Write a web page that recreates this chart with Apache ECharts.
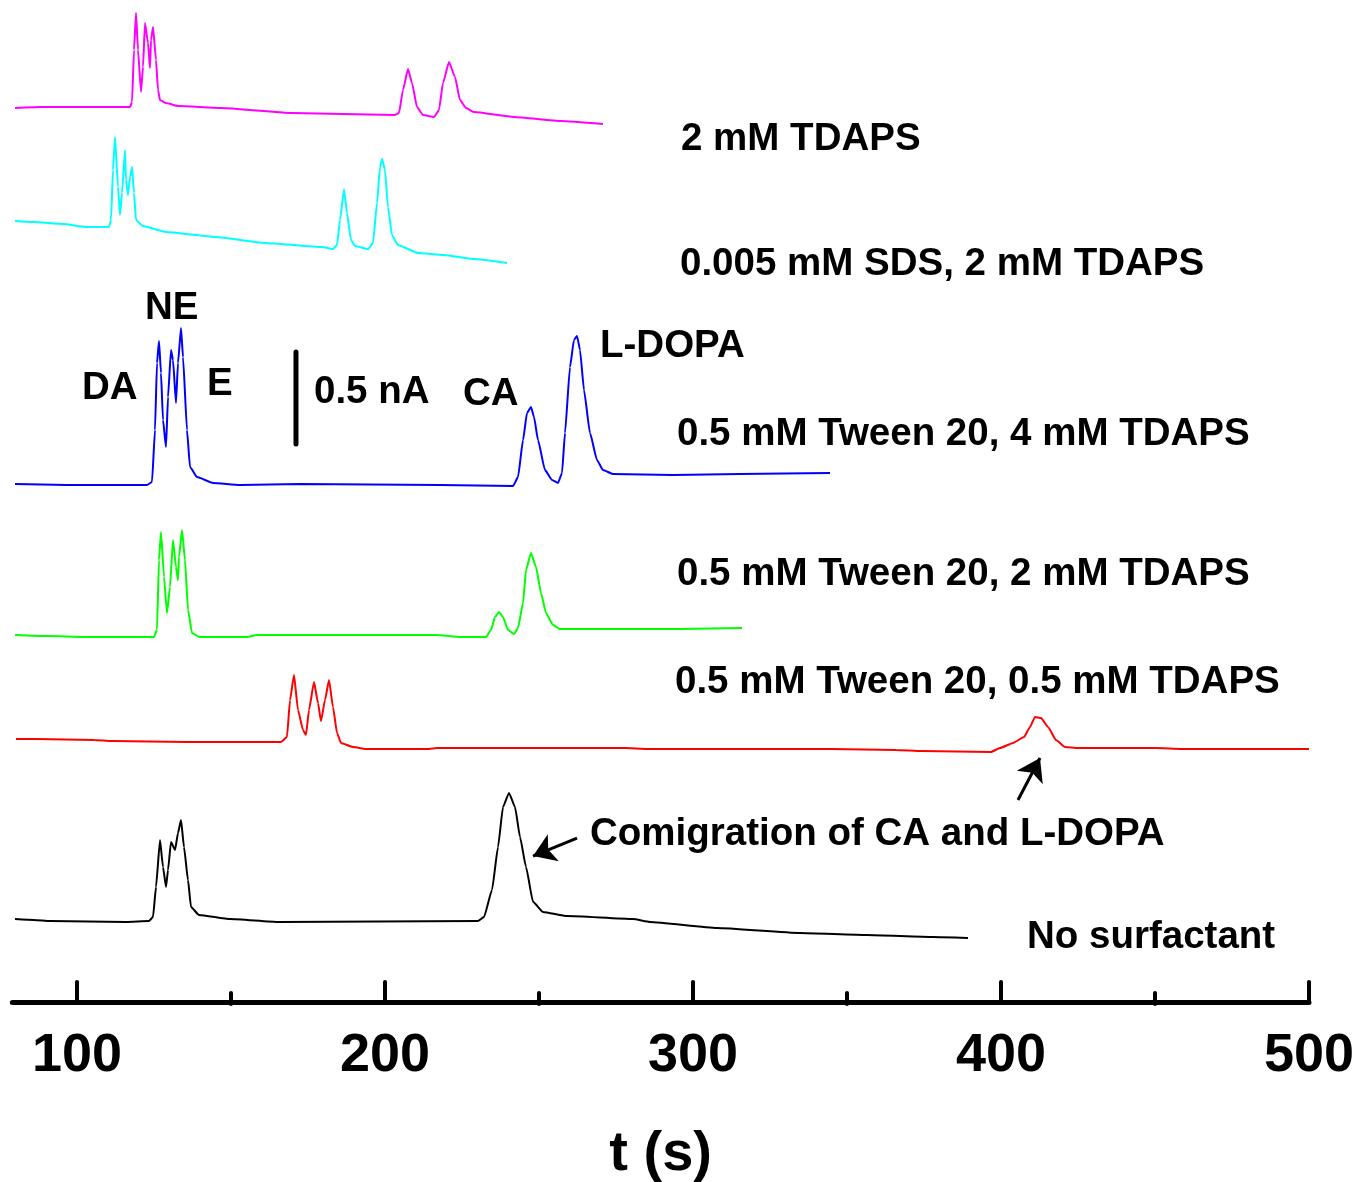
<!DOCTYPE html>
<html><head><meta charset="utf-8">
<script src="https://cdn.jsdelivr.net/npm/echarts@6/dist/echarts.min.js"></script>
<style>html,body{margin:0;padding:0;background:#fff}#c{width:1358px;height:1182px}</style>
</head><body><div id="c"></div>
<script>
// x: migration time t (s); y: detector current (nA), traces stacked with offsets
const xMajorTicks = [100, 200, 300, 400, 500];
const xMinorTicks = [150, 250, 350, 450];

const traceTDAPS2 = [[79.87,4.859],[87.99,4.864],[94.16,4.864],[107.14,4.864],[117.21,4.864],[117.86,4.891],[118.51,5.174],[119.16,5.375],[119.81,5.174],[120.78,4.946],[121.43,5.082],[122.08,5.321],[123.05,5.212],[123.70,5.076],[124.03,5.228],[124.68,5.299],[125.65,5.120],[126.30,4.957],[126.95,4.902],[128.90,4.886],[132.79,4.870],[146.75,4.859],[169.81,4.832],[203.25,4.821],[204.55,4.832],[205.84,4.957],[207.47,5.071],[208.77,4.995],[210.39,4.864],[212.34,4.821],[215.91,4.810],[217.53,4.848],[218.83,4.995],[220.78,5.109],[222.73,5.027],[224.35,4.902],[226.30,4.859],[228.90,4.837],[241.88,4.810],[257.14,4.788],[270.78,4.772]];

const traceSDS = [[79.87,4.245],[85.71,4.239],[95.45,4.228],[102.92,4.212],[110.39,4.212],[111.04,4.250],[111.69,4.522],[112.34,4.701],[113.31,4.429],[113.96,4.277],[114.61,4.397],[115.58,4.630],[115.91,4.467],[116.56,4.386],[117.21,4.484],[117.86,4.538],[118.51,4.397],[119.16,4.250],[121.43,4.217],[128.90,4.185],[145.13,4.158],[161.04,4.125],[179.55,4.103],[183.12,4.092],[184.42,4.114],[185.39,4.250],[186.69,4.418],[187.66,4.288],[188.96,4.141],[190.26,4.109],[194.48,4.092],[196.10,4.125],[197.40,4.342],[198.38,4.538],[199.03,4.582],[200.00,4.522],[200.97,4.321],[202.27,4.168],[204.22,4.114],[210.71,4.071],[219.16,4.060],[228.90,4.038],[239.61,4.016]];

const traceTween4 = [[79.87,2.815],[96.75,2.810],[122.73,2.810],[124.35,2.826],[125.32,3.109],[125.97,3.473],[126.62,3.592],[127.27,3.419],[127.92,3.163],[128.90,3.016],[129.55,3.288],[130.52,3.544],[131.17,3.489],[132.14,3.256],[132.79,3.473],[133.77,3.663],[134.42,3.505],[135.71,3.109],[136.69,2.908],[138.96,2.853],[144.16,2.821],[152.92,2.810],[172.40,2.815],[217.86,2.810],[241.56,2.804],[243.18,2.853],[244.81,3.054],[246.10,3.201],[247.40,3.234],[248.38,3.179],[249.68,3.054],[251.95,2.891],[254.22,2.837],[256.17,2.821],[257.47,2.875],[258.44,3.092],[260.06,3.451],[261.36,3.598],[262.34,3.620],[263.31,3.544],[264.61,3.326],[266.56,3.092],[268.83,2.946],[270.78,2.891],[274.03,2.870],[293.51,2.864],[315.26,2.870],[344.48,2.875]];

const traceTween2 = [[79.87,1.995],[90.58,1.989],[102.60,1.984],[114.29,1.984],[125.00,1.984],[125.97,2.022],[126.62,2.402],[127.27,2.554],[128.25,2.310],[129.22,2.114],[130.19,2.255],[131.17,2.511],[132.14,2.364],[132.79,2.293],[133.12,2.418],[134.09,2.565],[135.06,2.402],[136.04,2.130],[137.34,2.005],[139.61,1.984],[155.19,1.984],[158.44,1.995],[216.56,1.995],[224.68,1.984],[232.79,1.984],[234.42,2.022],[235.71,2.092],[237.01,2.120],[238.31,2.092],[239.94,2.022],[241.88,2.000],[243.18,2.033],[244.81,2.168],[245.78,2.348],[247.40,2.440],[249.03,2.364],[250.65,2.223],[252.27,2.114],[254.55,2.049],[256.82,2.027],[270.13,2.027],[295.45,2.027],[315.91,2.033]];

const traceTween05 = [[80.19,1.429],[86.69,1.429],[105.52,1.424],[111.36,1.418],[135.71,1.413],[153.25,1.413],[166.23,1.413],[168.18,1.440],[169.16,1.641],[170.45,1.777],[171.75,1.587],[173.38,1.478],[174.35,1.451],[175.32,1.587],[176.95,1.739],[178.25,1.625],[179.22,1.527],[180.52,1.641],[181.82,1.750],[183.12,1.603],[184.42,1.462],[185.71,1.408],[189.61,1.386],[193.83,1.375],[199.68,1.375],[214.29,1.375],[216.88,1.380],[277.92,1.380],[285.06,1.375],[300.97,1.375],[312.66,1.375],[318.18,1.375],[344.81,1.375],[365.91,1.370],[374.35,1.364],[396.75,1.359],[399.68,1.380],[403.90,1.408],[407.47,1.440],[409.42,1.495],[411.04,1.549],[413.00,1.543],[415.26,1.495],[417.86,1.424],[420.78,1.386],[425.00,1.380],[450.32,1.380],[458.77,1.375],[500.00,1.375]];

const traceNone = [[79.87,0.451],[86.04,0.446],[91.23,0.440],[115.91,0.435],[123.38,0.440],[124.68,0.462],[125.65,0.625],[126.95,0.880],[127.92,0.734],[128.90,0.625],[129.55,0.717],[130.52,0.870],[131.82,0.826],[132.79,0.918],[133.77,0.989],[134.74,0.842],[136.04,0.663],[137.01,0.516],[139.61,0.473],[149.68,0.451],[165.58,0.435],[230.19,0.440],[232.14,0.462],[234.74,0.609],[236.69,0.842],[238.31,1.060],[240.26,1.136],[242.21,1.060],[243.83,0.897],[245.78,0.734],[248.05,0.545],[251.30,0.489],[259.09,0.467],[280.52,0.451],[286.04,0.435],[307.79,0.402],[334.74,0.375],[356.49,0.364],[377.92,0.353],[389.29,0.348]];

// 0.5 nA scale bar (t, current)
const scaleBar = [[171.10,3.033],[171.10,3.533]];
// arrows: [tail, head]
const arrowComigration = [[262.34,0.891],[248.05,0.793]];
const arrowRed = [[405.52,1.098],[412.66,1.326]];

const traceNames = ['2 mM TDAPS','0.005 mM SDS, 2 mM TDAPS','0.5 mM Tween 20, 4 mM TDAPS','0.5 mM Tween 20, 2 mM TDAPS','0.5 mM Tween 20, 0.5 mM TDAPS','No surfactant'];
const traceColors = ['#ff00ff','#00ffff','#0000ff','#00ff00','#ff0000','#000000'];
const traces = [traceTDAPS2, traceSDS, traceTween4, traceTween2, traceTween05, traceNone];

const FONT = '"Liberation Sans", Arial, Helvetica, sans-serif';
const chart = echarts.init(document.getElementById('c'), null, {renderer:'canvas'});

const lineSeries = traces.map((d,i)=>({
  name: traceNames[i], type:'line', data:d, showSymbol:false, symbol:'none',
  smooth:0.15, smoothMonotone:'x',
  lineStyle:{color:traceColors[i], width:2}, itemStyle:{color:traceColors[i]},
  xAxisIndex:0, yAxisIndex:0, z:3
}));

function txt(text, x, y){
  return {type:'text', x:x, y:y, z:10, style:{text:text, fill:'#000', fontSize:38.5, fontWeight:'bold', fontFamily:FONT, align:'left', verticalAlign:'middle'}};
}

chart.setOption({
  animation:false,
  backgroundColor:'#fff',
  grid:{left:12.32, right:49, top:0, bottom:178, containLabel:false, outerBoundsMode:'none'},
  xAxis:[{
    type:'value', min:79, max:500, position:'bottom',
    name:'t (s)', nameLocation:'middle', nameGap:123,
    nameTextStyle:{fontSize:56, fontWeight:'bold', fontFamily:FONT, color:'#000'},
    axisLine:{show:true, lineStyle:{color:'#000', width:5, cap:'round'}},
    axisTick:{show:true, inside:true, length:20, customValues:xMajorTicks, lineStyle:{color:'#000', width:4, cap:'round'}},
    axisLabel:{show:true, customValues:xMajorTicks, margin:25, fontSize:54, fontWeight:'bold', fontFamily:FONT, color:'#000'},
    splitLine:{show:false}
  },{
    type:'value', min:79, max:500, position:'bottom',
    axisLine:{show:false},
    axisTick:{show:true, inside:true, length:11, customValues:xMinorTicks, lineStyle:{color:'#000', width:4, cap:'round'}},
    axisLabel:{show:false},
    splitLine:{show:false}
  }],
  yAxis:{type:'value', min:-0.011, max:5.446, show:false, splitLine:{show:false}},
  series:[
    ...lineSeries,
    {name:'0.5 nA', type:'line', data:scaleBar, symbol:'none', lineStyle:{color:'#000', width:5, cap:'round'}, z:4},
    {name:'arrows', type:'lines', coordinateSystem:'cartesian2d', xAxisIndex:0, yAxisIndex:0,
      symbol:['none','arrow'], symbolSize:[0,22],
      lineStyle:{color:'#000', width:3, opacity:1, curveness:0},
      data:[{coords:arrowComigration},{coords:arrowRed}], z:5}
  ],
  graphic:[
    txt('2 mM TDAPS', 681, 139),
    txt('0.005 mM SDS, 2 mM TDAPS', 680, 264),
    txt('0.5 mM Tween 20, 4 mM TDAPS', 677, 434),
    txt('0.5 mM Tween 20, 2 mM TDAPS', 677, 574),
    txt('0.5 mM Tween 20, 0.5 mM TDAPS', 675, 682),
    txt('No surfactant', 1027, 937),
    txt('Comigration of CA and L-DOPA', 590, 834),
    txt('DA', 82, 388),
    txt('NE', 145, 308),
    txt('E', 207, 384),
    txt('CA', 463, 394),
    txt('L-DOPA', 600, 346),
    txt('0.5 nA', 314, 392)
  ]
});
</script>
</body></html>
